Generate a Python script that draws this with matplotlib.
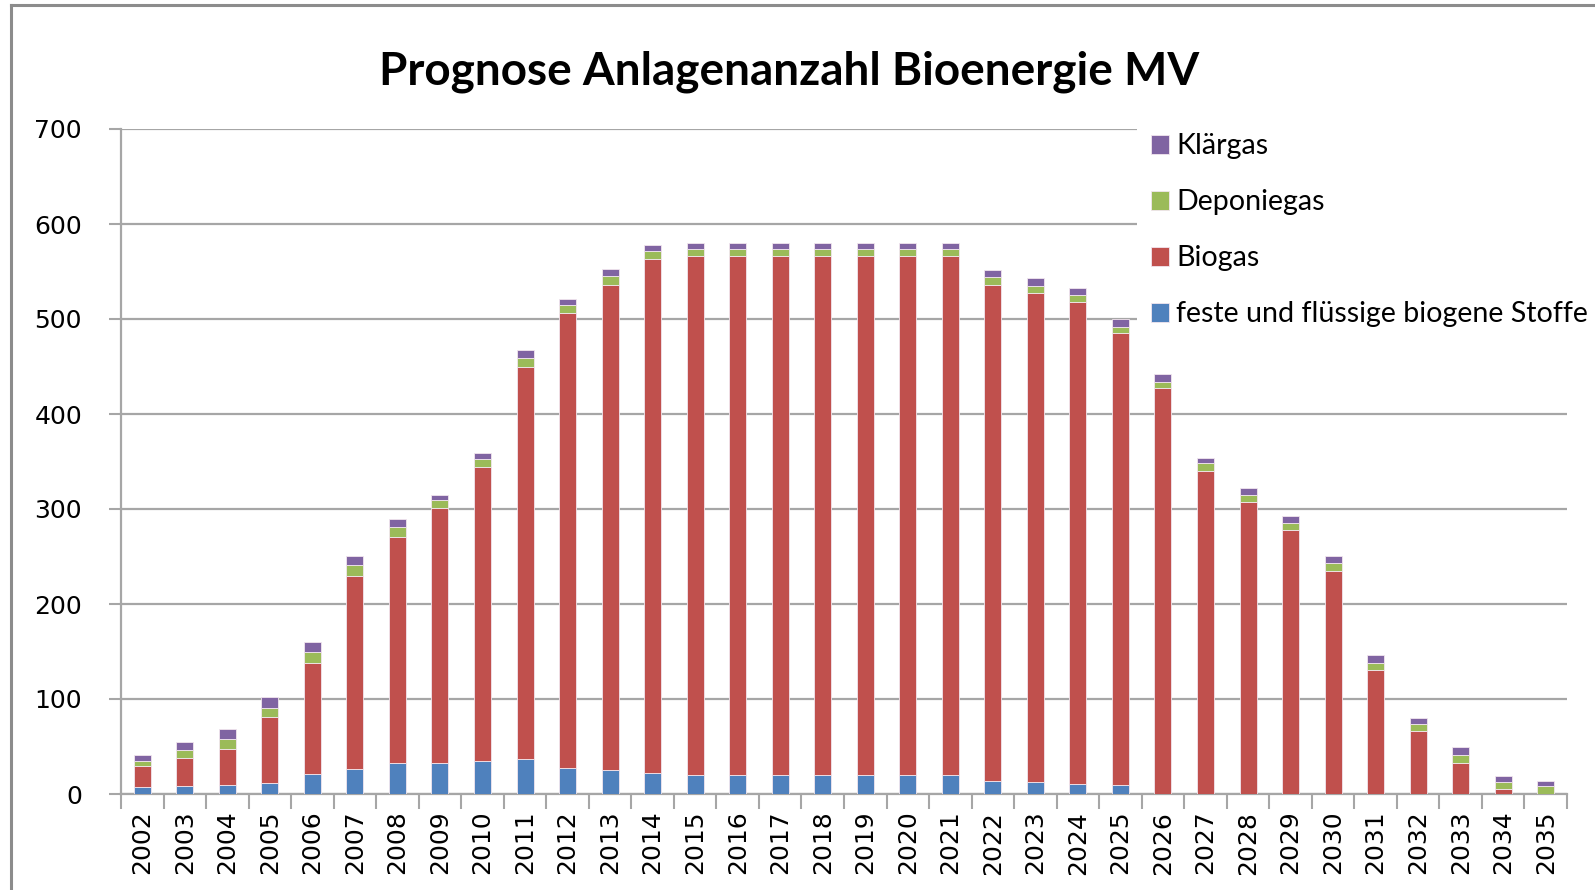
import matplotlib
matplotlib.use("Agg")
import matplotlib.pyplot as plt
from matplotlib.lines import Line2D
import numpy as np

years = [str(y) for y in range(2002, 2036)]
feste = [7, 8, 10, 12, 21, 26, 33, 33, 35, 37, 27, 25, 22, 20, 20, 20, 20, 20, 20, 20,
         14, 13, 11, 9, 0, 0, 0, 0, 0, 0, 0, 0, 0, 0]
biogas = [22, 30, 37, 69, 117, 204, 238, 268, 309, 413, 479, 511, 541, 546, 546, 546, 546,
          546, 546, 546, 522, 514, 507, 476, 427, 340, 307, 278, 235, 131, 66, 33, 5, 0]
deponiegas = [6, 8, 11, 10, 11, 11, 10, 8, 9, 9, 9, 9, 9, 8, 8, 8, 8, 8, 8, 8,
              8, 8, 7, 7, 7, 8, 8, 7, 8, 7, 8, 8, 8, 8]
klaergas = [6, 9, 10, 11, 11, 10, 9, 6, 6, 8, 6, 8, 6, 6, 6, 6, 6, 6, 6, 6,
            8, 8, 8, 8, 8, 6, 7, 8, 8, 8, 6, 8, 6, 6]

series = [
    ("feste und flüssige biogene Stoffe", feste, "#4F81BD"),
    ("Biogas", biogas, "#C0504D"),
    ("Deponiegas", deponiegas, "#9BBB59"),
    ("Klärgas", klaergas, "#8064A2"),
]

W, H = 1595, 890
fig = plt.figure(figsize=(W / 100, H / 100), dpi=100)
ax = fig.add_axes([121 / W, 1 - 794 / H, (1567 - 121) / W, (794 - 129) / H])

grid_c = "#A6A6A6"
x = np.arange(len(years))
bottom = np.zeros(len(years))
handles = []
for name, vals, col in series:
    b = ax.bar(x, vals, width=0.40, bottom=bottom, color=col, edgecolor="#F2E6EE",
               linewidth=0.6, label=name, zorder=3)
    handles.append(b)
    bottom += np.array(vals)

ax.set_xlim(-0.5, len(years) - 0.5)
ax.set_ylim(0, 700)
ax.set_yticks(range(0, 701, 100))
ax.yaxis.grid(True, color=grid_c, linewidth=1.6, zorder=0)
ax.set_axisbelow(True)

ax.set_xticks(x)
ax.set_xticklabels(years, rotation=90, fontsize=18, family="DejaVu Sans", color="#000000")
ax.set_xticks(np.arange(-0.5, len(years), 1.0), minor=True)
ax.tick_params(axis="x", which="major", length=0, pad=12)
ax.tick_params(axis="x", which="minor", length=11, width=1.5, color=grid_c, direction="out")
ax.tick_params(axis="y", length=9, width=1.5, color=grid_c, direction="out", pad=19,
               labelsize=18, labelcolor="#000000")
for lab in ax.get_yticklabels():
    lab.set_family("DejaVu Sans")

for s in ["top", "right"]:
    ax.spines[s].set_visible(False)
for s in ["left", "bottom"]:
    ax.spines[s].set_color(grid_c)
    ax.spines[s].set_linewidth(1.6)

fig.text(789 / W, 1 - 72 / H, "Prognose Anlagenanzahl Bioenergie MV", ha="center",
         va="center", fontsize=33, fontweight="bold", family="Lato", color="#000000")

leg = ax.legend(handles[::-1], [s[0] for s in series][::-1], loc="upper left",
                bbox_to_anchor=(1137 / W, 1 - 119 / H), bbox_transform=fig.transFigure,
                frameon=True, fancybox=False, facecolor="white", edgecolor="none",
                framealpha=1, borderaxespad=0, borderpad=0.5, handlelength=0.62,
                handleheight=0.62, handletextpad=0.25, labelspacing=1.05,
                prop={"family": "Lato", "size": 20.6})
leg.set_zorder(5)

border_c = "#8C8C8C"
fig.add_artist(Line2D([11 / W, 11 / W], [0, 1 - 5 / H], color=border_c, linewidth=2.2,
                      transform=fig.transFigure))
fig.add_artist(Line2D([11 / W, 1], [1 - 5 / H, 1 - 5 / H], color=border_c, linewidth=2.2,
                      transform=fig.transFigure))

fig.savefig("out.png", dpi=100)
